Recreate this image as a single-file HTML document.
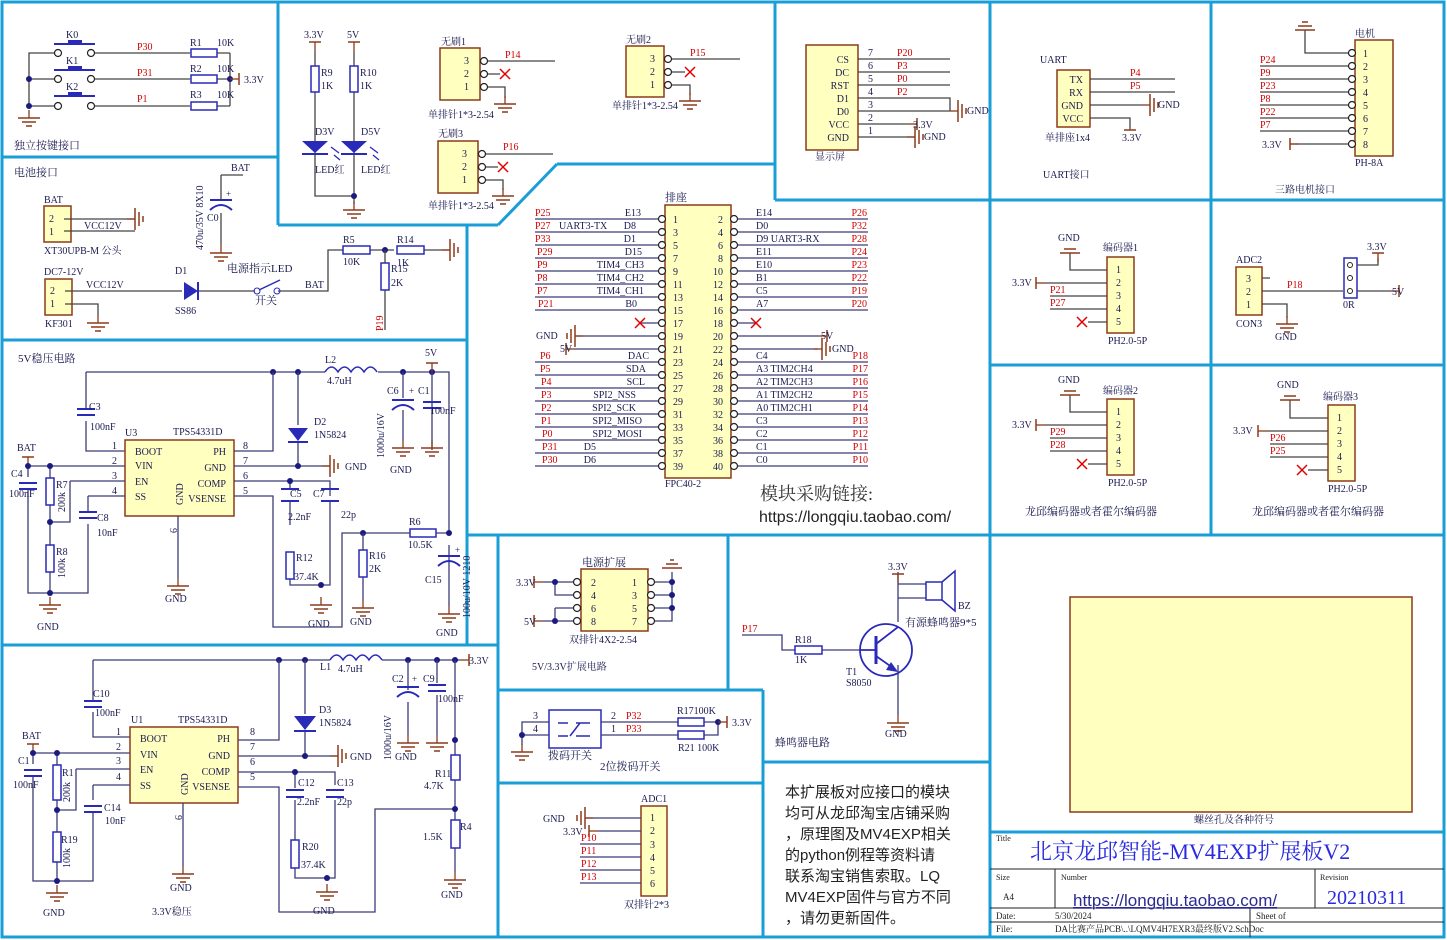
<!DOCTYPE html>
<html><head><meta charset="utf-8"><style>
html,body{margin:0;padding:0;background:#fff;}
svg{display:block;}
text{font-family:"Liberation Serif","Noto Serif CJK SC","Noto Sans CJK SC",serif;font-size:10px;fill:#1a1a50;}
.r{fill:#d00000;}
.b{fill:#1a1a80;}
.w{stroke:#3c3c78;stroke-width:1.3;fill:none;}
.k{stroke:#444;stroke-width:1.3;fill:none;}
.bd{stroke:#1a9ed8;stroke-width:3;fill:none;}
.box{fill:#ffffc0;stroke:#8b3a1a;stroke-width:1.5;}
.res{fill:#fff;stroke:#2a2ab8;stroke-width:1.5;}
.x{stroke:#e00000;stroke-width:1.5;}
.cap{stroke:#2a2ab8;stroke-width:2;}
.tb{stroke:#222;stroke-width:1;}
</style></head><body>
<svg width="1447" height="940" viewBox="0 0 1447 940" xmlns="http://www.w3.org/2000/svg">
<defs>
<g id="g"><line x1="0" y1="-8" x2="0" y2="0" stroke="#8b3a1a" stroke-width="1.3"/><line x1="-11" y1="0" x2="11" y2="0" stroke="#8b3a1a" stroke-width="1.5"/><line x1="-7" y1="4" x2="7" y2="4" stroke="#8b3a1a" stroke-width="1.5"/><line x1="-3" y1="8" x2="3" y2="8" stroke="#8b3a1a" stroke-width="1.5"/></g>
<g id="gr"><line x1="-8" y1="0" x2="0" y2="0" stroke="#8b3a1a" stroke-width="1.3"/><line x1="0" y1="-11" x2="0" y2="11" stroke="#8b3a1a" stroke-width="1.5"/><line x1="4" y1="-7" x2="4" y2="7" stroke="#8b3a1a" stroke-width="1.5"/><line x1="8" y1="-3" x2="8" y2="3" stroke="#8b3a1a" stroke-width="1.5"/></g>
<g id="gl"><line x1="8" y1="0" x2="0" y2="0" stroke="#8b3a1a" stroke-width="1.3"/><line x1="0" y1="-11" x2="0" y2="11" stroke="#8b3a1a" stroke-width="1.5"/><line x1="-4" y1="-7" x2="-4" y2="7" stroke="#8b3a1a" stroke-width="1.5"/><line x1="-8" y1="-3" x2="-8" y2="3" stroke="#8b3a1a" stroke-width="1.5"/></g>
<g id="pw"><line x1="0" y1="0" x2="0" y2="-9" stroke="#8b3a1a" stroke-width="1.3"/><line x1="-6" y1="-9" x2="6" y2="-9" stroke="#8b3a1a" stroke-width="1.5"/></g>
<g id="pwl"><line x1="0" y1="0" x2="-9" y2="0" stroke="#8b3a1a" stroke-width="1.3"/><line x1="-9" y1="-6" x2="-9" y2="6" stroke="#8b3a1a" stroke-width="1.5"/></g>
<g id="pwr"><line x1="0" y1="0" x2="9" y2="0" stroke="#8b3a1a" stroke-width="1.3"/><line x1="9" y1="-6" x2="9" y2="6" stroke="#8b3a1a" stroke-width="1.5"/></g>
<circle id="d" r="3" fill="#1a1a80"/>
<circle id="o" r="3.5" fill="#fff" stroke="#222" stroke-width="1.2"/>
<g id="xx"><line x1="-5" y1="-5" x2="5" y2="5" class="x"/><line x1="-5" y1="5" x2="5" y2="-5" class="x"/></g>
<g id="ch"><line x1="-9" y1="0" x2="9" y2="0" class="cap"/><line x1="-9" y1="6" x2="9" y2="6" class="cap"/></g>
<g id="cv"><line x1="0" y1="-9" x2="0" y2="9" class="cap"/><line x1="6" y1="-9" x2="6" y2="9" class="cap"/></g>
<g id="ce"><line x1="-11" y1="0" x2="11" y2="0" class="cap"/><path d="M-11,10 Q0,0 11,10" class="cap" fill="none"/></g>
</defs>

<!-- ===== panel borders ===== -->
<rect x="2" y="2" width="1442" height="935" class="bd"/>
<line x1="278" y1="2" x2="278" y2="225" class="bd"/>
<line x1="2" y1="157" x2="278" y2="157" class="bd"/>
<line x1="278" y1="225" x2="498" y2="225" class="bd"/>
<line x1="498" y1="225" x2="557" y2="164" class="bd"/>
<line x1="557" y1="164" x2="775" y2="164" class="bd"/>
<line x1="775" y1="2" x2="775" y2="200" class="bd"/>
<line x1="775" y1="200" x2="1444" y2="200" class="bd"/>
<line x1="990" y1="2" x2="990" y2="937" class="bd"/>
<line x1="1211" y1="2" x2="1211" y2="535" class="bd"/>
<line x1="990" y1="365" x2="1444" y2="365" class="bd"/>
<line x1="990" y1="535" x2="1444" y2="535" class="bd"/>
<line x1="467" y1="225" x2="467" y2="645" class="bd"/>
<line x1="2" y1="340" x2="467" y2="340" class="bd"/>
<line x1="467" y1="535" x2="990" y2="535" class="bd"/>
<line x1="2" y1="645" x2="498" y2="645" class="bd"/>
<line x1="498" y1="535" x2="498" y2="937" class="bd"/>
<line x1="728" y1="535" x2="728" y2="690" class="bd"/>
<line x1="498" y1="690" x2="763" y2="690" class="bd"/>
<line x1="763" y1="690" x2="763" y2="937" class="bd"/>
<line x1="498" y1="783" x2="763" y2="783" class="bd"/>
<line x1="763" y1="762" x2="990" y2="762" class="bd"/>
<line x1="990" y1="832" x2="1444" y2="832" class="bd"/>

<!-- ===== keys ===== -->
<text x="66" y="38">K0</text><text x="66" y="64">K1</text><text x="66" y="90">K2</text>
<line x1="54" y1="44" x2="95" y2="44" stroke="#2a2ab8" stroke-width="2"/><rect x="68" y="40" width="14" height="4" fill="#2a2ab8"/>
<line x1="54" y1="70" x2="95" y2="70" stroke="#2a2ab8" stroke-width="2"/><rect x="68" y="66" width="14" height="4" fill="#2a2ab8"/>
<line x1="54" y1="96" x2="95" y2="96" stroke="#2a2ab8" stroke-width="2"/><rect x="68" y="92" width="14" height="4" fill="#2a2ab8"/>
<path d="M58,53 H29 V106 H58 M29,79 H58" class="k"/>
<path d="M91,53 H190 M217,53 H230 M91,79 H190 M217,79 H230 M91,106 H190 M217,106 H230 M230,53 V106" class="k"/>
<use href="#o" x="58" y="53"/><use href="#o" x="91" y="53"/><use href="#o" x="58" y="79"/><use href="#o" x="91" y="79"/><use href="#o" x="58" y="106"/><use href="#o" x="91" y="106"/>
<rect x="191" y="49" width="26" height="8" class="res"/><rect x="191" y="75" width="26" height="8" class="res"/><rect x="191" y="102" width="26" height="8" class="res"/>
<use href="#d" x="29" y="79"/><use href="#d" x="29" y="106"/><use href="#d" x="230" y="79"/>
<use href="#pwr" x="230" y="79"/><text x="244" y="83">3.3V</text>
<use href="#g" x="29" y="118"/>
<text x="137" y="50" class="r">P30</text><text x="137" y="76" class="r">P31</text><text x="137" y="102" class="r">P1</text>
<text x="190" y="46">R1</text><text x="217" y="46">10K</text><text x="190" y="72">R2</text><text x="217" y="72">10K</text><text x="190" y="98">R3</text><text x="217" y="98">10K</text>
<text x="14" y="149" style="font-size:11px">独立按键接口</text>

<!-- ===== battery ===== -->
<text x="14" y="176" style="font-size:11px">电池接口</text>
<text x="44" y="203">BAT</text>
<rect x="44" y="206" width="27" height="36" class="box"/><text x="49" y="222">2</text><text x="49" y="235">1</text>
<path d="M64,219 H135 M64,231 H135" class="k"/><use href="#gr" x="135" y="219"/>
<text x="84" y="229">VCC12V</text><text x="44" y="254">XT30UPB-M 公头</text>
<text x="44" y="275">DC7-12V</text>
<rect x="45" y="279" width="27" height="36" class="box"/><text x="50" y="294">2</text><text x="50" y="307">1</text>
<path d="M65,291 H182 M198,291 H255 M278,291 H328 V250 H343 M370,250 H394 M418,250 H450" class="k"/>
<path d="M65,304 H98 V315" class="k"/><use href="#g" x="98" y="323"/>
<text x="86" y="288">VCC12V</text><text x="45" y="327">KF301</text>
<text x="175" y="274">D1</text><text x="175" y="314">SS86</text>
<path d="M184,282 L198,291 L184,300 Z" fill="#2a2ab8"/><line x1="198" y1="282" x2="198" y2="300" stroke="#2a2ab8" stroke-width="2"/>
<circle cx="257" cy="291" r="3" fill="none" stroke="#2a2ab8"/><circle cx="277" cy="291" r="3" fill="none" stroke="#2a2ab8"/><line x1="259" y1="290" x2="280" y2="280" stroke="#2a2ab8" stroke-width="1.5"/>
<text x="255" y="304" style="font-size:11px">开关</text><text x="305" y="288">BAT</text>
<rect x="343" y="246" width="27" height="8" class="res"/><rect x="397" y="246" width="27" height="8" class="res"/>
<use href="#d" x="385" y="250"/><path d="M385,250 V263 M385,290 V330" class="k"/><rect x="381" y="263" width="8" height="27" class="res"/>
<use href="#gr" x="450" y="250"/>
<text x="343" y="243">R5</text><text x="343" y="265">10K</text><text x="397" y="243">R14</text><text x="397" y="266">1K</text><text x="391" y="272">R15</text><text x="391" y="286">2K</text>
<text x="383" y="331" class="r" transform="rotate(-90 383 331)">P19</text>
<text x="231" y="171">BAT</text><path d="M221,175 H243 M221,175 V200 M221,213 V245" class="k"/>
<use href="#ce" x="221" y="200"/><text x="226" y="197" style="font-size:9px">+</text><text x="207" y="221">C0</text>
<use href="#g" x="221" y="253"/>
<text x="203" y="250" transform="rotate(-90 203 250)">470u/35V 8X10</text>
<text x="227" y="272" style="font-size:11px">电源指示LED</text>

<!-- ===== LED panel ===== -->
<text x="304" y="38">3.3V</text><text x="347" y="38">5V</text>
<use href="#pw" x="315" y="51"/><use href="#pw" x="354" y="51"/>
<path d="M315,51 V66 M315,92 V196 H354 M354,51 V66 M354,92 V204" class="k"/>
<rect x="311" y="66" width="8" height="26" class="res"/><rect x="350" y="66" width="8" height="26" class="res"/>
<text x="321" y="76">R9</text><text x="321" y="89">1K</text><text x="360" y="76">R10</text><text x="360" y="89">1K</text>
<path d="M302,141 H328 L315,153 Z" fill="#2a2ab8"/><line x1="302" y1="154" x2="328" y2="154" stroke="#2a2ab8" stroke-width="2"/>
<path d="M341,141 H367 L354,153 Z" fill="#2a2ab8"/><line x1="341" y1="154" x2="367" y2="154" stroke="#2a2ab8" stroke-width="2"/>
<path d="M331,147 l8,6 M334,155 l6,5 M370,147 l8,6 M373,155 l6,5" stroke="#2a2ab8" stroke-width="1.3"/>
<text x="315" y="135">D3V</text><text x="361" y="135">D5V</text><text x="315" y="173">LED红</text><text x="361" y="173">LED红</text>
<use href="#d" x="354" y="196"/><use href="#g" x="354" y="210"/>
<!-- brushless -->
<text x="441" y="45">无刷1</text>
<rect x="440" y="48" width="40" height="52" class="box"/><text x="464" y="64">3</text><text x="464" y="77">2</text><text x="464" y="90">1</text>
<path d="M487,61 H555 M487,74 H500 M487,87 H505 V98" class="k"/><use href="#xx" x="505" y="74"/><use href="#g" x="505" y="104"/>
<use href="#o" x="484" y="61"/><use href="#o" x="484" y="74"/><use href="#o" x="484" y="87"/>
<text x="505" y="58" class="r">P14</text><text x="428" y="118">单排针1*3-2.54</text>
<text x="438" y="137">无刷3</text>
<rect x="438" y="141" width="40" height="52" class="box"/><text x="462" y="157">3</text><text x="462" y="170">2</text><text x="462" y="183">1</text>
<path d="M485,154 H553 M485,167 H498 M485,180 H503 V190" class="k"/><use href="#xx" x="503" y="167"/><use href="#g" x="503" y="196"/>
<use href="#o" x="482" y="154"/><use href="#o" x="482" y="167"/><use href="#o" x="482" y="180"/>
<text x="503" y="150" class="r">P16</text><text x="428" y="209">单排针1*3-2.54</text>
<text x="626" y="43">无刷2</text>
<rect x="626" y="46" width="38" height="51" class="box"/><text x="650" y="62">3</text><text x="650" y="75">2</text><text x="650" y="88">1</text>
<path d="M671,59 H740 M671,72 H685 M671,85 H690 V95" class="k"/><use href="#xx" x="690" y="72"/><use href="#g" x="690" y="101"/>
<use href="#o" x="668" y="59"/><use href="#o" x="668" y="72"/><use href="#o" x="668" y="85"/>
<text x="690" y="56" class="r">P15</text><text x="612" y="109">单排针1*3-2.54</text>

<!-- ===== display ===== -->
<rect x="806" y="45" width="52" height="105" class="box"/>
<g text-anchor="end"><text x="849" y="63">CS</text><text x="849" y="76">DC</text><text x="849" y="89">RST</text><text x="849" y="102">D1</text><text x="849" y="115">D0</text><text x="849" y="128">VCC</text><text x="849" y="141">GND</text></g>
<path d="M858,59 H950 M858,72 H950 M858,85 H950 M858,98 H950 V111 M858,111 H950 M858,124 H908 M858,137 H915" class="k"/>
<text x="868" y="56">7</text><text x="868" y="69">6</text><text x="868" y="82">5</text><text x="868" y="95">4</text><text x="868" y="108">3</text><text x="868" y="121">2</text><text x="868" y="134">1</text>
<text x="897" y="56" class="r">P20</text><text x="897" y="69" class="r">P3</text><text x="897" y="82" class="r">P0</text><text x="897" y="95" class="r">P2</text>
<use href="#gr" x="958" y="111"/><text x="967" y="114">GND</text>
<use href="#pwr" x="908" y="124"/><text x="913" y="128">3.3V</text>
<use href="#gr" x="915" y="137"/><text x="924" y="140">GND</text>
<text x="815" y="160">显示屏</text>

<!-- ===== UART ===== -->
<text x="1040" y="63">UART</text>
<rect x="1057" y="70" width="33" height="57" class="box"/>
<g text-anchor="end"><text x="1083" y="83">TX</text><text x="1083" y="96">RX</text><text x="1083" y="109">GND</text><text x="1083" y="122">VCC</text></g>
<path d="M1090,79 H1175 M1090,92 H1175 M1090,105 H1142 M1090,118 H1130 V130" class="k"/>
<text x="1130" y="76" class="r">P4</text><text x="1130" y="89" class="r">P5</text>
<use href="#gr" x="1150" y="105"/><text x="1158" y="108">GND</text>
<line x1="1124" y1="130" x2="1136" y2="130" stroke="#8b3a1a" stroke-width="1.5"/><text x="1122" y="141">3.3V</text>
<text x="1045" y="141">单排座1x4</text><text x="1043" y="178">UART接口</text>

<!-- ===== motor ===== -->
<text x="1355" y="37">电机</text>
<rect x="1355" y="40" width="38" height="116" class="box"/>
<g><text x="1363" y="57">1</text><text x="1363" y="70">2</text><text x="1363" y="83">3</text><text x="1363" y="96">4</text><text x="1363" y="109">5</text><text x="1363" y="122">6</text><text x="1363" y="135">7</text><text x="1363" y="148">8</text></g>
<path d="M1305,30 V53 H1350 M1260,66 H1350 M1260,79 H1350 M1260,92 H1350 M1260,105 H1350 M1260,118 H1350 M1260,131 H1350 M1290,144 H1350" class="k"/>
<line x1="1295" y1="30" x2="1315" y2="30" stroke="#8b3a1a" stroke-width="1.5"/><line x1="1298" y1="26" x2="1312" y2="26" stroke="#8b3a1a" stroke-width="1.5"/><line x1="1302" y1="22" x2="1308" y2="22" stroke="#8b3a1a" stroke-width="1.5"/>
<use href="#o" x="1352" y="53"/><use href="#o" x="1352" y="66"/><use href="#o" x="1352" y="79"/><use href="#o" x="1352" y="92"/><use href="#o" x="1352" y="105"/><use href="#o" x="1352" y="118"/><use href="#o" x="1352" y="131"/><use href="#o" x="1352" y="144"/>
<text x="1260" y="63" class="r">P24</text><text x="1260" y="76" class="r">P9</text><text x="1260" y="89" class="r">P23</text><text x="1260" y="102" class="r">P8</text><text x="1260" y="115" class="r">P22</text><text x="1260" y="128" class="r">P7</text>
<use href="#pwl" x="1299" y="144"/><text x="1262" y="148">3.3V</text>
<text x="1355" y="166">PH-8A</text><text x="1275" y="193">三路电机接口</text>

<!-- ===== encoders ===== -->
<g>
<text x="1058" y="241">GND</text><text x="1103" y="251">编码器1</text>
<rect x="1107" y="257" width="27" height="76" class="box"/>
<text x="1116" y="273">1</text><text x="1116" y="286">2</text><text x="1116" y="299">3</text><text x="1116" y="312">4</text><text x="1116" y="325">5</text>
<path d="M1070,253 V270 H1107 M1045,283 H1107 M1050,296 H1107 M1050,309 H1107 M1088,322 H1107" class="k"/>
<line x1="1060" y1="253" x2="1080" y2="253" stroke="#8b3a1a" stroke-width="1.5"/><line x1="1064" y1="249" x2="1076" y2="249" stroke="#8b3a1a" stroke-width="1.5"/>
<use href="#pwl" x="1045" y="283"/><text x="1012" y="286">3.3V</text>
<text x="1050" y="293" class="r">P21</text><text x="1050" y="306" class="r">P27</text><use href="#xx" x="1082" y="322"/>
<text x="1108" y="344">PH2.0-5P</text>
</g>
<g>
<text x="1058" y="383">GND</text><text x="1103" y="394">编码器2</text>
<rect x="1107" y="399" width="27" height="76" class="box"/>
<text x="1116" y="415">1</text><text x="1116" y="428">2</text><text x="1116" y="441">3</text><text x="1116" y="454">4</text><text x="1116" y="467">5</text>
<path d="M1070,395 V412 H1107 M1045,425 H1107 M1050,438 H1107 M1050,451 H1107 M1088,464 H1107" class="k"/>
<line x1="1060" y1="395" x2="1080" y2="395" stroke="#8b3a1a" stroke-width="1.5"/><line x1="1064" y1="391" x2="1076" y2="391" stroke="#8b3a1a" stroke-width="1.5"/>
<use href="#pwl" x="1045" y="425"/><text x="1012" y="428">3.3V</text>
<text x="1050" y="435" class="r">P29</text><text x="1050" y="448" class="r">P28</text><use href="#xx" x="1082" y="464"/>
<text x="1108" y="486">PH2.0-5P</text><text x="1025" y="515" style="font-size:11px">龙邱编码器或者霍尔编码器</text>
</g>
<g>
<text x="1277" y="388">GND</text><text x="1323" y="400">编码器3</text>
<rect x="1328" y="405" width="27" height="76" class="box"/>
<text x="1337" y="421">1</text><text x="1337" y="434">2</text><text x="1337" y="447">3</text><text x="1337" y="460">4</text><text x="1337" y="473">5</text>
<path d="M1290,400 V418 H1328 M1267,431 H1328 M1270,444 H1328 M1270,457 H1328 M1308,470 H1328" class="k"/>
<line x1="1280" y1="400" x2="1300" y2="400" stroke="#8b3a1a" stroke-width="1.5"/><line x1="1284" y1="396" x2="1296" y2="396" stroke="#8b3a1a" stroke-width="1.5"/>
<use href="#pwl" x="1267" y="431"/><text x="1233" y="434">3.3V</text>
<text x="1270" y="441" class="r">P26</text><text x="1270" y="454" class="r">P25</text><use href="#xx" x="1302" y="470"/>
<text x="1328" y="492">PH2.0-5P</text><text x="1252" y="515" style="font-size:11px">龙邱编码器或者霍尔编码器</text>
</g>
<!-- ADC2 -->
<text x="1236" y="263">ADC2</text>
<rect x="1236" y="267" width="26" height="48" class="box"/><text x="1246" y="282">3</text><text x="1246" y="295">2</text><text x="1246" y="308">1</text>
<path d="M1262,278 H1270 M1262,291 H1343 M1262,304 H1287 V318" class="k"/>
<text x="1287" y="288" class="r">P18</text>
<rect x="1344" y="258" width="13" height="40" fill="#fff" stroke="#2a2ab8" stroke-width="1.5"/>
<circle cx="1350" cy="265" r="2.5" fill="none" stroke="#222"/><circle cx="1350" cy="278" r="2.5" fill="none" stroke="#222"/><circle cx="1350" cy="291" r="2.5" fill="none" stroke="#222"/>
<path d="M1357,265 H1378 V258 M1357,291 H1390" class="k"/>
<use href="#pw" x="1378" y="262"/><text x="1367" y="250">3.3V</text>
<use href="#pwr" x="1390" y="291"/><text x="1392" y="295">5V</text><text x="1343" y="308">0R</text>
<text x="1236" y="327">CON3</text><use href="#g" x="1287" y="324"/><text x="1275" y="340">GND</text>

<!-- ===== FPC ===== -->
<text x="665" y="201" style="font-size:11px">排座</text>
<rect x="665" y="205" width="66" height="273" class="box"/>
<path d="M535,219 H662 M535,232 H662 M535,245 H662 M535,258 H662 M535,271 H662 M535,284 H662 M535,297 H662 M535,310 H662 M640,323 H662 M575,336 H662 M575,349 H662 M535,362 H662 M535,375 H662 M535,388 H662 M535,401 H662 M535,414 H662 M535,427 H662 M535,440 H662 M535,453 H662 M535,466 H662" class="w"/>
<path d="M734,219 H868 M734,232 H868 M734,245 H868 M734,258 H868 M734,271 H868 M734,284 H868 M734,297 H868 M734,310 H868 M734,323 H756 M734,336 H818 M734,349 H818 M734,362 H868 M734,375 H868 M734,388 H868 M734,401 H868 M734,414 H868 M734,427 H868 M734,440 H868 M734,453 H868 M734,466 H868" class="w"/>
<g>
<use href="#o" x="662" y="219"/><use href="#o" x="662" y="232"/><use href="#o" x="662" y="245"/><use href="#o" x="662" y="258"/><use href="#o" x="662" y="271"/><use href="#o" x="662" y="284"/><use href="#o" x="662" y="297"/><use href="#o" x="662" y="310"/><use href="#o" x="662" y="323"/><use href="#o" x="662" y="336"/><use href="#o" x="662" y="349"/><use href="#o" x="662" y="362"/><use href="#o" x="662" y="375"/><use href="#o" x="662" y="388"/><use href="#o" x="662" y="401"/><use href="#o" x="662" y="414"/><use href="#o" x="662" y="427"/><use href="#o" x="662" y="440"/><use href="#o" x="662" y="453"/><use href="#o" x="662" y="466"/>
<use href="#o" x="734" y="219"/><use href="#o" x="734" y="232"/><use href="#o" x="734" y="245"/><use href="#o" x="734" y="258"/><use href="#o" x="734" y="271"/><use href="#o" x="734" y="284"/><use href="#o" x="734" y="297"/><use href="#o" x="734" y="310"/><use href="#o" x="734" y="323"/><use href="#o" x="734" y="336"/><use href="#o" x="734" y="349"/><use href="#o" x="734" y="362"/><use href="#o" x="734" y="375"/><use href="#o" x="734" y="388"/><use href="#o" x="734" y="401"/><use href="#o" x="734" y="414"/><use href="#o" x="734" y="427"/><use href="#o" x="734" y="440"/><use href="#o" x="734" y="453"/><use href="#o" x="734" y="466"/>
</g>
<g><text x="673" y="223">1</text><text x="673" y="236">3</text><text x="673" y="249">5</text><text x="673" y="262">7</text><text x="673" y="275">9</text><text x="673" y="288">11</text><text x="673" y="301">13</text><text x="673" y="314">15</text><text x="673" y="327">17</text><text x="673" y="340">19</text><text x="673" y="353">21</text><text x="673" y="366">23</text><text x="673" y="379">25</text><text x="673" y="392">27</text><text x="673" y="405">29</text><text x="673" y="418">31</text><text x="673" y="431">33</text><text x="673" y="444">35</text><text x="673" y="457">37</text><text x="673" y="470">39</text></g>
<g text-anchor="end"><text x="723" y="223">2</text><text x="723" y="236">4</text><text x="723" y="249">6</text><text x="723" y="262">8</text><text x="723" y="275">10</text><text x="723" y="288">12</text><text x="723" y="301">14</text><text x="723" y="314">16</text><text x="723" y="327">18</text><text x="723" y="340">20</text><text x="723" y="353">22</text><text x="723" y="366">24</text><text x="723" y="379">26</text><text x="723" y="392">28</text><text x="723" y="405">30</text><text x="723" y="418">32</text><text x="723" y="431">34</text><text x="723" y="444">36</text><text x="723" y="457">38</text><text x="723" y="470">40</text></g>
<g class="r"><text x="535" y="216" class="r">P25</text><text x="535" y="229" class="r">P27</text><text x="535" y="242" class="r">P33</text><text x="537" y="255" class="r">P29</text><text x="537" y="268" class="r">P9</text><text x="537" y="281" class="r">P8</text><text x="537" y="294" class="r">P7</text><text x="538" y="307" class="r">P21</text>
<text x="540" y="359" class="r">P6</text><text x="540" y="372" class="r">P5</text><text x="541" y="385" class="r">P4</text><text x="541" y="398" class="r">P3</text><text x="541" y="411" class="r">P2</text><text x="541" y="424" class="r">P1</text><text x="542" y="437" class="r">P0</text><text x="542" y="450" class="r">P31</text><text x="542" y="463" class="r">P30</text></g>
<text x="559" y="229">UART3-TX</text>
<g text-anchor="end"><text x="641" y="216">E13</text><text x="636" y="229">D8</text><text x="636" y="242">D1</text><text x="642" y="255">D15</text><text x="644" y="268">TIM4_CH3</text><text x="644" y="281">TIM4_CH2</text><text x="644" y="294">TIM4_CH1</text><text x="637" y="307">B0</text>
<text x="649" y="359">DAC</text><text x="646" y="372">SDA</text><text x="645" y="385">SCL</text><text x="636" y="398">SPI2_NSS</text><text x="636" y="411">SPI2_SCK</text><text x="642" y="424">SPI2_MISO</text><text x="642" y="437">SPI2_MOSI</text><text x="596" y="450">D5</text><text x="596" y="463">D6</text></g>
<use href="#xx" x="640" y="323"/><use href="#xx" x="756" y="323"/>
<use href="#gl" x="575" y="336"/><text x="536" y="339">GND</text><use href="#pwl" x="575" y="349"/><text x="560" y="352">5V</text>
<use href="#pwr" x="818" y="336"/><text x="821" y="339">5V</text><use href="#gr" x="822" y="349"/><text x="832" y="352">GND</text>
<text x="756" y="216">E14</text><text x="756" y="229">D0</text><text x="756" y="242">D9 UART3-RX</text><text x="756" y="255">E11</text><text x="756" y="268">E10</text><text x="756" y="281">B1</text><text x="756" y="294">C5</text><text x="756" y="307">A7</text>
<text x="756" y="359">C4</text><text x="756" y="372">A3  TIM2CH4</text><text x="756" y="385">A2  TIM2CH3</text><text x="756" y="398">A1  TIM2CH2</text><text x="756" y="411">A0  TIM2CH1</text><text x="756" y="424">C3</text><text x="756" y="437">C2</text><text x="756" y="450">C1</text><text x="756" y="463">C0</text>
<g text-anchor="end"><text x="867" y="216" class="r">P26</text><text x="867" y="229" class="r">P32</text><text x="867" y="242" class="r">P28</text><text x="867" y="255" class="r">P24</text><text x="867" y="268" class="r">P23</text><text x="867" y="281" class="r">P22</text><text x="867" y="294" class="r">P19</text><text x="867" y="307" class="r">P20</text>
<text x="868" y="359" class="r">P18</text><text x="868" y="372" class="r">P17</text><text x="868" y="385" class="r">P16</text><text x="868" y="398" class="r">P15</text><text x="868" y="411" class="r">P14</text><text x="868" y="424" class="r">P13</text><text x="868" y="437" class="r">P12</text><text x="868" y="450" class="r">P11</text><text x="868" y="463" class="r">P10</text></g>
<text x="665" y="487">FPC40-2</text>
<text x="760" y="500" style="font-size:18px;fill:#333">模块采购链接:</text>
<text x="759" y="522" style="font-size:16px;fill:#222;font-family:'Liberation Sans',sans-serif">https://longqiu.taobao.com/</text>

<!-- ===== 5V regulator ===== -->
<text x="18" y="362" style="font-size:11px">5V稳压电路</text>
<path d="M86,372 H325 M378,372 H449 V533 M86,372 V409 M86,421 V451 H125" class="w"/>
<path d="M325,372 q6.5,-10 13,0 q6.5,-10 13,0 q6.5,-10 13,0 q6.5,-10 13,0" fill="none" stroke="#2a2ab8" stroke-width="1.5"/>
<text x="325" y="363">L2</text><text x="327" y="384">4.7uH</text>
<use href="#d" x="273" y="372"/><use href="#d" x="298" y="372"/><use href="#d" x="403" y="372"/><use href="#d" x="432" y="372"/>
<use href="#pw" x="432" y="372"/><text x="425" y="356">5V</text>
<use href="#ch" x="86" y="409"/><text x="89" y="410">C3</text><text x="90" y="430">100nF</text>
<rect x="125" y="440" width="109" height="76" class="box"/>
<text x="125" y="436">U3</text><text x="173" y="435">TPS54331D</text>
<text x="135" y="455">BOOT</text><text x="135" y="469">VIN</text><text x="135" y="485">EN</text><text x="135" y="500">SS</text>
<g text-anchor="end"><text x="226" y="455">PH</text><text x="226" y="471">GND</text><text x="226" y="487">COMP</text><text x="226" y="502">VSENSE</text></g>
<text x="183" y="505" transform="rotate(-90 183 505)">GND</text>
<text x="112" y="449">1</text><text x="112" y="464">2</text><text x="112" y="479">3</text><text x="112" y="494">4</text>
<text x="243" y="449">8</text><text x="243" y="464">7</text><text x="243" y="479">6</text><text x="243" y="494">5</text>
<path d="M28,466 H125 M70,481 H125 V481 M70,481 V522 H50 M88,496 H125 M88,496 V512 M88,524 V593 H28 V489 M28,477 V466 M50,466 V478 M50,505 V545 M50,572 V593" class="w"/>
<use href="#pw" x="28" y="466"/><text x="17" y="451">BAT</text>
<use href="#d" x="28" y="466"/><use href="#d" x="50" y="466"/><use href="#d" x="50" y="522"/><use href="#d" x="50" y="593"/>
<use href="#ch" x="28" y="483"/><text x="11" y="477">C4</text><text x="9" y="497">100nF</text>
<rect x="46" y="478" width="8" height="27" class="res"/><text x="56" y="488">R7</text><text x="65" y="512" transform="rotate(-90 65 512)">200k</text>
<rect x="46" y="545" width="8" height="27" class="res"/><text x="56" y="555">R8</text><text x="65" y="578" transform="rotate(-90 65 578)">100k</text>
<use href="#ch" x="88" y="512"/><text x="97" y="521">C8</text><text x="97" y="536">10nF</text>
<use href="#g" x="50" y="605"/><text x="37" y="630">GND</text>
<path d="M178,516 V578" class="w"/><use href="#g" x="178" y="586"/><text x="165" y="602">GND</text><text x="170" y="528" transform="rotate(90 170 528)">9</text>
<path d="M234,451 H273 V372 M234,466 H330 M298,372 V425 M298,441 V466 M234,481 H330 V496 M290,481 V489 M290,501 V525 M290,552 V585 H330 V501 M234,496 H273 V627 H342 V533 H410 M436,533 H449" class="w"/>
<path d="M288,428 H308 L298,441 Z" fill="#2a2ab8"/><line x1="288" y1="442" x2="308" y2="442" stroke="#2a2ab8" stroke-width="2"/>
<text x="314" y="425">D2</text><text x="314" y="438">1N5824</text>
<use href="#d" x="298" y="466"/><use href="#gr" x="330" y="466"/><text x="345" y="470">GND</text>
<use href="#d" x="290" y="481"/>
<line x1="281" y1="489" x2="299" y2="489" class="cap"/><line x1="281" y1="501" x2="299" y2="501" class="cap"/>
<line x1="321" y1="489" x2="339" y2="489" class="cap"/><line x1="321" y1="501" x2="339" y2="501" class="cap"/>
<text x="290" y="497">C5</text><text x="313" y="497">C7</text><text x="288" y="520">2.2nF</text><text x="341" y="518">22p</text>
<rect x="286" y="552" width="8" height="27" class="res"/><text x="296" y="561">R12</text><text x="294" y="580">37.4K</text>
<use href="#d" x="321" y="585"/><use href="#g" x="321" y="605"/><text x="308" y="627">GND</text>
<use href="#d" x="363" y="533"/><path d="M363,533 V550 M363,577 V600" class="w"/><rect x="359" y="550" width="8" height="27" class="res"/>
<text x="369" y="559">R16</text><text x="369" y="572">2K</text><use href="#g" x="363" y="608"/><text x="350" y="625">GND</text>
<rect x="410" y="529" width="26" height="8" class="res"/><text x="409" y="525">R6</text><text x="408" y="548">10.5K</text>
<use href="#d" x="449" y="533"/><path d="M449,545 V606" class="w"/><use href="#ce" x="449" y="556"/><text x="455" y="553" style="font-size:9px">+</text><text x="425" y="583">C15</text>
<use href="#g" x="449" y="614"/><text x="436" y="636">GND</text>
<text x="470" y="618" transform="rotate(-90 470 618)">100u/10V 1210</text>
<path d="M403,372 V398 M432,372 V450 M403,410 V440 M432,412 V440" class="w"/>
<use href="#ce" x="403" y="400"/><line x1="423" y1="402" x2="441" y2="402" class="cap"/><line x1="423" y1="408" x2="441" y2="408" class="cap"/>
<text x="387" y="394">C6</text><text x="409" y="394" style="font-size:9px">+</text><text x="418" y="394">C1</text><text x="430" y="414">100nF</text>
<use href="#g" x="403" y="448"/><use href="#g" x="432" y="448"/><text x="390" y="473">GND</text>
<text x="384" y="458" transform="rotate(-90 384 458)">1000u/16V</text>

<!-- ===== 3.3V regulator ===== -->
<path d="M93,660 H330 M382,660 H460 M93,660 V700 M93,712 V737 H130" class="w"/>
<path d="M330,660 q6.5,-10 13,0 q6.5,-10 13,0 q6.5,-10 13,0 q6.5,-10 13,0" fill="none" stroke="#2a2ab8" stroke-width="1.5"/>
<text x="320" y="670">L1</text><text x="338" y="672">4.7uH</text>
<use href="#d" x="279" y="660"/><use href="#d" x="305" y="660"/><use href="#d" x="408" y="660"/><use href="#d" x="437" y="660"/><use href="#d" x="455" y="660"/>
<use href="#pwr" x="460" y="660"/><text x="469" y="664">3.3V</text>
<use href="#ch" x="93" y="701"/><text x="93" y="697">C10</text><text x="95" y="716">100nF</text>
<rect x="130" y="727" width="108" height="76" class="box"/>
<text x="131" y="723">U1</text><text x="178" y="723">TPS54331D</text>
<text x="140" y="742">BOOT</text><text x="140" y="758">VIN</text><text x="140" y="773">EN</text><text x="140" y="789">SS</text>
<g text-anchor="end"><text x="230" y="742">PH</text><text x="230" y="759">GND</text><text x="230" y="775">COMP</text><text x="230" y="790">VSENSE</text></g>
<text x="188" y="795" transform="rotate(-90 188 795)">GND</text>
<text x="116" y="735">1</text><text x="116" y="750">2</text><text x="116" y="764">3</text><text x="116" y="780">4</text>
<text x="250" y="735">8</text><text x="250" y="750">7</text><text x="250" y="765">6</text><text x="250" y="780">5</text>
<path d="M33,753 H130 M76,769 H130 M76,769 V810 H57 M93,785 H130 M93,785 V800 M93,812 V881 H33 V776 M33,764 V753 M57,753 V765 M57,800 V832 M57,862 V881" class="w"/>
<use href="#pw" x="33" y="753"/><text x="22" y="739">BAT</text>
<use href="#d" x="33" y="753"/><use href="#d" x="57" y="753"/><use href="#d" x="57" y="810"/><use href="#d" x="57" y="881"/>
<use href="#ch" x="33" y="770"/><text x="18" y="764">C1</text><text x="13" y="788">100nF</text>
<rect x="53" y="765" width="8" height="35" class="res"/><text x="62" y="776">R1</text><text x="70" y="802" transform="rotate(-90 70 802)">200k</text>
<rect x="53" y="832" width="8" height="30" class="res"/><text x="61" y="843">R19</text><text x="70" y="868" transform="rotate(-90 70 868)">100k</text>
<use href="#ch" x="93" y="806"/><text x="104" y="811">C14</text><text x="105" y="824">10nF</text>
<use href="#g" x="57" y="893"/><text x="43" y="916">GND</text>
<path d="M183,803 V866" class="w"/><use href="#g" x="183" y="874"/><text x="170" y="891">GND</text><text x="175" y="815" transform="rotate(90 175 815)">9</text>
<text x="152" y="915">3.3V稳压</text>
<path d="M238,740 H279 V660 M238,756 H338 M305,660 V714 M305,730 V756 M238,772 H335 V785 M295,772 V788 M295,800 V840 M295,868 V878 H335 V800 M238,787 H279 V912 H375 V809 H455 M455,660 V755 M455,780 V820 M455,848 V872" class="w"/>
<path d="M294,716 H316 L305,730 Z" fill="#2a2ab8"/><line x1="294" y1="731" x2="316" y2="731" stroke="#2a2ab8" stroke-width="2"/>
<text x="319" y="713">D3</text><text x="319" y="726">1N5824</text>
<use href="#d" x="305" y="756"/><use href="#gr" x="338" y="756"/><text x="350" y="760">GND</text>
<use href="#d" x="295" y="772"/>
<line x1="286" y1="790" x2="304" y2="790" class="cap"/><line x1="286" y1="797" x2="304" y2="797" class="cap"/>
<line x1="326" y1="790" x2="344" y2="790" class="cap"/><line x1="326" y1="797" x2="344" y2="797" class="cap"/>
<text x="298" y="786">C12</text><text x="337" y="786">C13</text><text x="297" y="805">2.2nF</text><text x="337" y="805">22p</text>
<rect x="291" y="840" width="8" height="28" class="res"/><text x="302" y="850">R20</text><text x="301" y="868">37.4K</text>
<use href="#d" x="327" y="878"/><use href="#g" x="327" y="892"/><text x="313" y="914">GND</text>
<use href="#d" x="455" y="740"/><use href="#d" x="455" y="809"/>
<rect x="451" y="755" width="9" height="25" class="res"/><text x="435" y="777">R11</text><text x="424" y="789">4.7K</text>
<rect x="451" y="820" width="9" height="28" class="res"/><text x="460" y="830">R4</text><text x="423" y="840">1.5K</text>
<use href="#g" x="455" y="880"/><text x="441" y="898">GND</text>
<path d="M408,660 V690 M437,660 V683 M408,702 V735 M437,695 V735" class="w"/>
<use href="#ce" x="408" y="687"/><line x1="428" y1="685" x2="446" y2="685" class="cap"/><line x1="428" y1="691" x2="446" y2="691" class="cap"/>
<text x="392" y="682">C2</text><text x="412" y="682" style="font-size:9px">+</text><text x="423" y="682">C9</text><text x="438" y="702">100nF</text>
<use href="#g" x="408" y="743"/><use href="#g" x="437" y="743"/><text x="395" y="760">GND</text>
<text x="391" y="760" transform="rotate(-90 391 760)">1000u/16V</text>

<!-- ===== power expansion ===== -->
<text x="582" y="566" style="font-size:11px">电源扩展</text>
<rect x="581" y="569" width="67" height="62" class="box"/>
<text x="591" y="586">2</text><text x="591" y="599">4</text><text x="591" y="612">6</text><text x="591" y="625">8</text>
<text x="632" y="586">1</text><text x="632" y="599">3</text><text x="632" y="612">5</text><text x="632" y="625">7</text>
<path d="M543,582 H577 M555,582 V595 H577 M555,608 H577 M555,608 V621 M543,621 H577 M652,582 H672 M652,595 H672 M652,608 H672 M652,621 H672 V572" class="w"/>
<use href="#o" x="577" y="582"/><use href="#o" x="577" y="595"/><use href="#o" x="577" y="608"/><use href="#o" x="577" y="621"/>
<use href="#o" x="651" y="582"/><use href="#o" x="651" y="595"/><use href="#o" x="651" y="608"/><use href="#o" x="651" y="621"/>
<use href="#d" x="555" y="582"/><use href="#d" x="555" y="621"/><use href="#d" x="672" y="582"/><use href="#d" x="672" y="595"/><use href="#d" x="672" y="608"/>
<use href="#pwl" x="543" y="582"/><text x="516" y="586">3.3V</text><use href="#pwl" x="543" y="621"/><text x="524" y="625">5V</text>
<line x1="662" y1="568" x2="682" y2="568" stroke="#8b3a1a" stroke-width="1.5"/><line x1="666" y1="564" x2="678" y2="564" stroke="#8b3a1a" stroke-width="1.5"/><line x1="670" y1="560" x2="674" y2="560" stroke="#8b3a1a" stroke-width="1.5"/>
<text x="569" y="643">双排针4X2-2.54</text><text x="532" y="670">5V/3.3V扩展电路</text>

<!-- ===== DIP switch ===== -->
<rect x="549" y="710" width="52" height="38" fill="#fff" stroke="#2a2ab8" stroke-width="1.5"/>
<path d="M558,723 H568 M576,723 H590 M558,736 H568 M576,736 H590 M570,736 L580,723" stroke="#2a2ab8" stroke-width="1.5" fill="none"/>
<path d="M549,722 H522 V735 H549 M522,735 V745" class="w"/><use href="#d" x="522" y="735"/><use href="#g" x="522" y="752"/>
<text x="533" y="719">3</text><text x="533" y="732">4</text>
<path d="M601,722 H678 M704,722 H718 M601,735 H678 M704,735 H718 V722" class="w"/>
<text x="611" y="719">2</text><text x="611" y="732">1</text><text x="626" y="719" class="r">P32</text><text x="626" y="732" class="r">P33</text>
<rect x="678" y="718" width="26" height="8" class="res"/><rect x="678" y="731" width="26" height="8" class="res"/>
<use href="#d" x="718" y="722"/><use href="#pwr" x="718" y="722"/><text x="732" y="726">3.3V</text>
<text x="677" y="714">R17100K</text><text x="678" y="751">R21  100K</text>
<text x="548" y="759" style="font-size:11px">拨码开关</text><text x="600" y="770" style="font-size:11px">2位拨码开关</text>

<!-- ===== ADC1 ===== -->
<text x="641" y="802">ADC1</text>
<rect x="641" y="806" width="26" height="90" class="box"/>
<text x="650" y="821">1</text><text x="650" y="834">2</text><text x="650" y="848">3</text><text x="650" y="861">4</text><text x="650" y="874">5</text><text x="650" y="887">6</text>
<path d="M585,818 H641 M598,831 H641 M580,844 H641 M580,857 H641 M580,870 H641 M580,883 H641" class="w"/>
<use href="#gl" x="585" y="818"/><text x="543" y="822">GND</text>
<use href="#pwl" x="598" y="831"/><text x="563" y="835">3.3V</text>
<text x="581" y="841" class="r">P10</text><text x="581" y="854" class="r">P11</text><text x="581" y="867" class="r">P12</text><text x="581" y="880" class="r">P13</text>
<text x="624" y="908">双排针2*3</text>

<!-- ===== buzzer ===== -->
<text x="742" y="632" class="r">P17</text>
<path d="M742,635 H782 V650 H795 M822,650 H860 M898,622 V598 H926 M898,600 V572 M898,665 V715" class="w"/>
<rect x="795" y="646" width="27" height="8" class="res"/><text x="795" y="643">R18</text><text x="795" y="663">1K</text>
<circle cx="886" cy="650" r="26" fill="none" stroke="#2a2ab8" stroke-width="1.8"/>
<line x1="876" y1="636" x2="876" y2="664" stroke="#2a2ab8" stroke-width="3"/>
<path d="M860,650 H876 M876,644 L898,627 M876,656 L896,670" stroke="#2a2ab8" stroke-width="1.8" fill="none"/>
<path d="M891,662 L898,672 L886,670 Z" fill="#2a2ab8"/>
<text x="846" y="675">T1</text><text x="846" y="686">S8050</text>
<use href="#pw" x="898" y="583"/><text x="888" y="570">3.3V</text>
<path d="M898,584 H926" class="w"/>
<rect x="926" y="582" width="16" height="18" fill="#fff" stroke="#2a2ab8" stroke-width="1.5"/><path d="M942,582 L955,571 V611 L942,600" fill="none" stroke="#2a2ab8" stroke-width="1.5"/>
<text x="958" y="609">BZ</text><text x="905" y="626" style="font-size:11px">有源蜂鸣器9*5</text>
<use href="#g" x="898" y="723"/><text x="885" y="737">GND</text>
<text x="775" y="746" style="font-size:11px">蜂鸣器电路</text>

<!-- ===== note text ===== -->
<g style="font-family:'Liberation Sans','Noto Sans CJK SC',sans-serif;font-size:15px;fill:#222">
<text x="785" y="797" style="font-family:'Liberation Sans','Noto Sans CJK SC',sans-serif;font-size:15px;fill:#222">本扩展板对应接口的模块</text>
<text x="785" y="818" style="font-family:'Liberation Sans','Noto Sans CJK SC',sans-serif;font-size:15px;fill:#222">均可从龙邱淘宝店铺采购</text>
<text x="785" y="839" style="font-family:'Liberation Sans','Noto Sans CJK SC',sans-serif;font-size:15px;fill:#222">，原理图及MV4EXP相关</text>
<text x="785" y="860" style="font-family:'Liberation Sans','Noto Sans CJK SC',sans-serif;font-size:15px;fill:#222">的python例程等资料请</text>
<text x="785" y="881" style="font-family:'Liberation Sans','Noto Sans CJK SC',sans-serif;font-size:15px;fill:#222">联系淘宝销售索取。LQ</text>
<text x="785" y="902" style="font-family:'Liberation Sans','Noto Sans CJK SC',sans-serif;font-size:15px;fill:#222">MV4EXP固件与官方不同</text>
<text x="785" y="923" style="font-family:'Liberation Sans','Noto Sans CJK SC',sans-serif;font-size:15px;fill:#222">，请勿更新固件。</text>
</g>

<!-- ===== title block ===== -->
<rect x="1070" y="597" width="342" height="215" fill="#ffffc0" stroke="#8b3a1a" stroke-width="1.5"/>
<text x="1194" y="823">螺丝孔及各种符号</text>
<line x1="990" y1="869" x2="1444" y2="869" class="tb"/><line x1="990" y1="908" x2="1444" y2="908" class="tb"/><line x1="990" y1="922" x2="1444" y2="922" class="tb"/>
<line x1="1055" y1="869" x2="1055" y2="908" class="tb"/><line x1="1315" y1="869" x2="1315" y2="908" class="tb"/><line x1="1250" y1="908" x2="1250" y2="937" class="tb"/>
<text x="996" y="841" style="font-size:8px;fill:#222">Title</text>
<text x="1030" y="859" style="font-size:22px;fill:#2a2ae0">北京龙邱智能-MV4EXP扩展板V2</text>
<text x="996" y="880" style="font-size:8px;fill:#222">Size</text><text x="1003" y="900" style="font-size:9px;fill:#222">A4</text>
<text x="1061" y="880" style="font-size:8px;fill:#222">Number</text>
<text x="1073" y="906" style="font-size:17px;fill:#2a2a90;font-family:'Liberation Sans',sans-serif;text-decoration:underline">https://longqiu.taobao.com/</text>
<line x1="1073" y1="908" x2="1277" y2="908" stroke="#2a2a90" stroke-width="1"/>
<text x="1320" y="880" style="font-size:8px;fill:#222">Revision</text>
<text x="1327" y="904" style="font-size:20px;fill:#2a2ae0">20210311</text>
<text x="996" y="919" style="font-size:9px;fill:#222">Date:</text><text x="1055" y="919" style="font-size:9px;fill:#222">5/30/2024</text><text x="1256" y="919" style="font-size:9px;fill:#222">Sheet  of</text>
<text x="996" y="932" style="font-size:9px;fill:#222">File:</text><text x="1055" y="932" style="font-size:9px;fill:#222">DA比赛产品PCB\..\LQMV4H7EXR3最终版V2.SchDoc</text>
</svg>
</body></html>
